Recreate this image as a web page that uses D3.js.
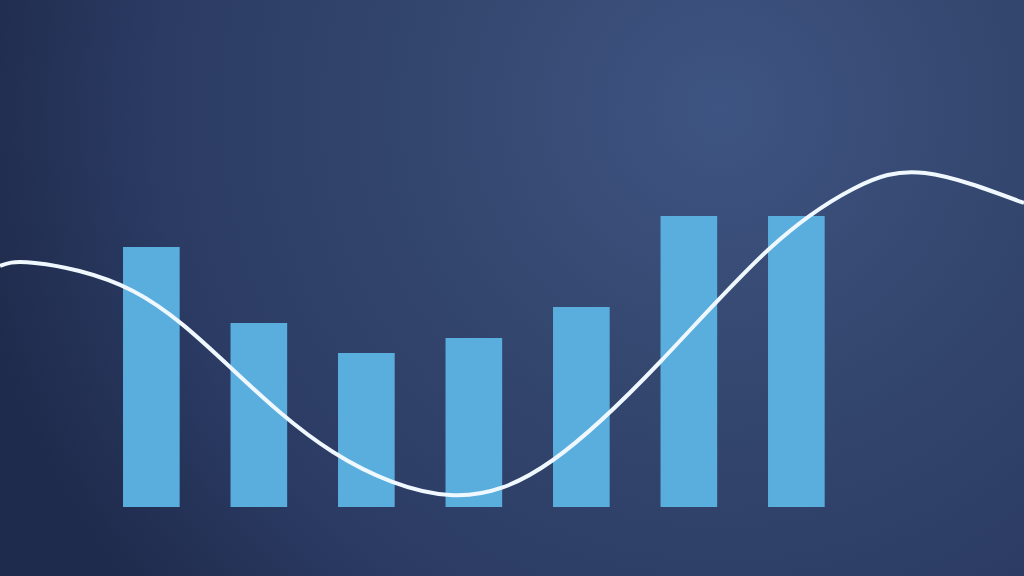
<!DOCTYPE html>
<html>
<head>
<meta charset="utf-8">
<script src="https://cdn.jsdelivr.net/npm/d3@7"></script>
<style>
  html, body { margin: 0; padding: 0; overflow: hidden; background: #1f2b4c; }
</style>
</head>
<body>
<div class="chart"></div>
<script>
// bar categories and values (pixel-ish units above the baseline)
var categories = ["A", "B", "C", "D", "E", "F", "G"];
var barValues = [260, 184, 154, 169, 200, 291, 291];

// smooth line: x position (0-1024 domain) and value
var lineX = [0, 35, 133, 231, 333, 450, 553, 661, 768, 853, 925, 1024];
var lineValues = [241, 244, 216, 139, 55, 12, 47, 146, 257, 318, 334, 304];

var width = 1024;
var height = 576;
var baseline = 507;

var svg = d3.select('.chart')
  .append('svg')
    .attr('width', width)
    .attr('height', height);

var defs = svg.append('defs');
var grad = defs.append('radialGradient')
  .attr('id', 'bg')
  .attr('gradientUnits', 'userSpaceOnUse')
  .attr('cx', 720).attr('cy', 110).attr('r', 800);
grad.append('stop').attr('offset', '0').attr('stop-color', '#3e5482');
grad.append('stop').attr('offset', '0.35').attr('stop-color', '#34476f');
grad.append('stop').attr('offset', '0.7').attr('stop-color', '#2b3b64');
grad.append('stop').attr('offset', '0.95').attr('stop-color', '#1f2b4c');

svg.append('rect')
  .attr('width', width)
  .attr('height', height)
  .attr('fill', 'url(#bg)');

var xScale = d3.scaleBand()
  .domain(categories)
  .range([97.6, 850.1])
  .paddingInner(0.473)
  .paddingOuter(0.2365);

var yScale = d3.scaleLinear()
  .domain([0, baseline])
  .range([baseline, 0]);

svg.selectAll('.bar')
  .data(barValues)
  .enter().append('rect')
    .attr('class', 'bar')
    .attr('x', function(d, i) { return xScale(categories[i]); })
    .attr('y', function(d) { return yScale(d); })
    .attr('width', xScale.bandwidth())
    .attr('height', function(d) { return baseline - yScale(d); })
    .attr('fill', '#5aaede');

var lx = d3.scaleLinear().domain([0, 1024]).range([0, width]);

var line = d3.line()
  .x(function(d, i) { return lx(lineX[i]); })
  .y(function(d) { return yScale(d); })
  .curve(d3.curveNatural);

svg.append('path')
  .datum(lineValues)
  .attr('d', line)
  .attr('fill', 'none')
  .attr('stroke', '#f0f8ff')
  .attr('stroke-width', 4);
</script>
</body>
</html>
